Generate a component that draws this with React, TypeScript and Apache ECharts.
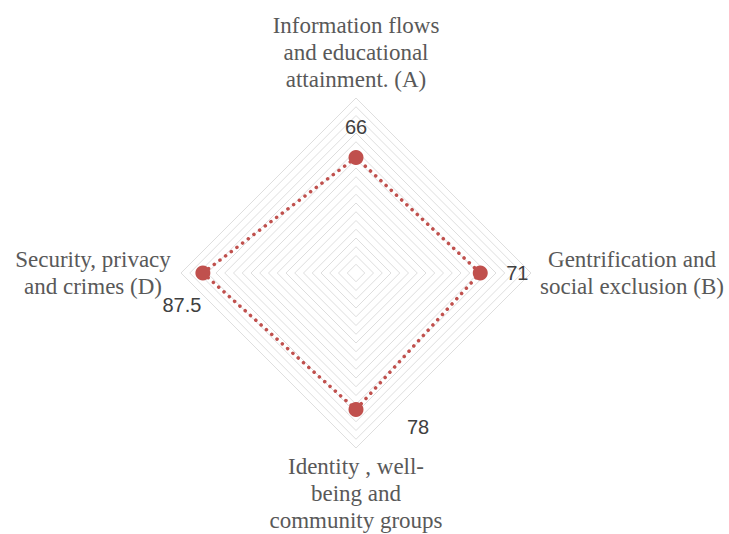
import React, { useEffect, useRef } from 'react';
import * as echarts from 'echarts';

// Indicators in ECharts' placement order (top, then counter-clockwise)
const indicatorNames = [
  'Information flows\nand educational\nattainment. (A)',
  'Security, privacy\nand crimes (D)',
  'Identity , well-\nbeing and\ncommunity groups',
  'Gentrification and\nsocial exclusion (B)',
];
const scores = [66, 87.5, 78, 71];
const maxScore = 100;
const ringCount = 20;

export default function App() {
  const ref = useRef<HTMLDivElement>(null);

  useEffect(() => {
    const chart = echarts.init(ref.current!, null, { renderer: 'svg' });

    // label offsets (padding) per indicator, to place each value label like the reference
    const valuePads = [
      [0, 0, 62, 0],
      [64, 42, 0, 0],
      [34, 0, 0, 124],
      [0, 0, 0, 74],
    ];
    const nameWidths = [200, 166, 200, 192];

    const valueRich: Record<string, any> = {};
    valuePads.forEach((p, i) => {
      valueRich['v' + i] = {
        padding: p,
        fontFamily: 'Liberation Sans',
        fontSize: 20,
        color: '#404040',
      };
    });
    const nameRich: Record<string, any> = {};
    nameWidths.forEach((w, i) => {
      nameRich['n' + i] = {
        width: w,
        align: 'center',
        fontFamily: 'Liberation Serif',
        fontSize: 23,
        lineHeight: 27,
        color: '#595959',
      };
    });

    chart.setOption({
      animation: false,
      backgroundColor: '#ffffff',
      radar: {
        center: [356, 273],
        radius: 175,
        shape: 'polygon',
        startAngle: 90,
        splitNumber: ringCount,
        indicator: indicatorNames.map((name) => ({ name, min: 0, max: maxScore })),
        nameGap: 5,
        axisName: {
          color: '#595959',
          fontFamily: 'Liberation Serif',
          fontSize: 23,
          formatter: (name: string) => {
            const i = indicatorNames.indexOf(name);
            return `{n${i}|${name}}`;
          },
          rich: nameRich,
        },
        axisLine: { show: false },
        axisTick: { show: false },
        axisLabel: { show: false },
        splitArea: { show: false },
        splitLine: { lineStyle: { color: '#dedede', width: 1 } },
      },
      series: [
        {
          type: 'radar',
          symbol: 'circle',
          symbolSize: 15,
          itemStyle: { color: '#c0504d' },
          lineStyle: { color: '#c0504d', width: 3.5, type: [0.1, 7], cap: 'round' },
          label: {
            show: true,
            position: 'inside',
            formatter: (p: any) => {
              const i = scores.indexOf(p.value);
              return `{v${i}|${p.value}}`;
            },
            rich: valueRich,
          },
          data: [{ value: scores, name: 'Score' }],
        },
      ],
    });

    return () => chart.dispose();
  }, []);

  return (
    <div
      ref={ref}
      style={{ position: 'absolute', left: 0, top: 0, width: 729, height: 534 }}
    />
  );
}
